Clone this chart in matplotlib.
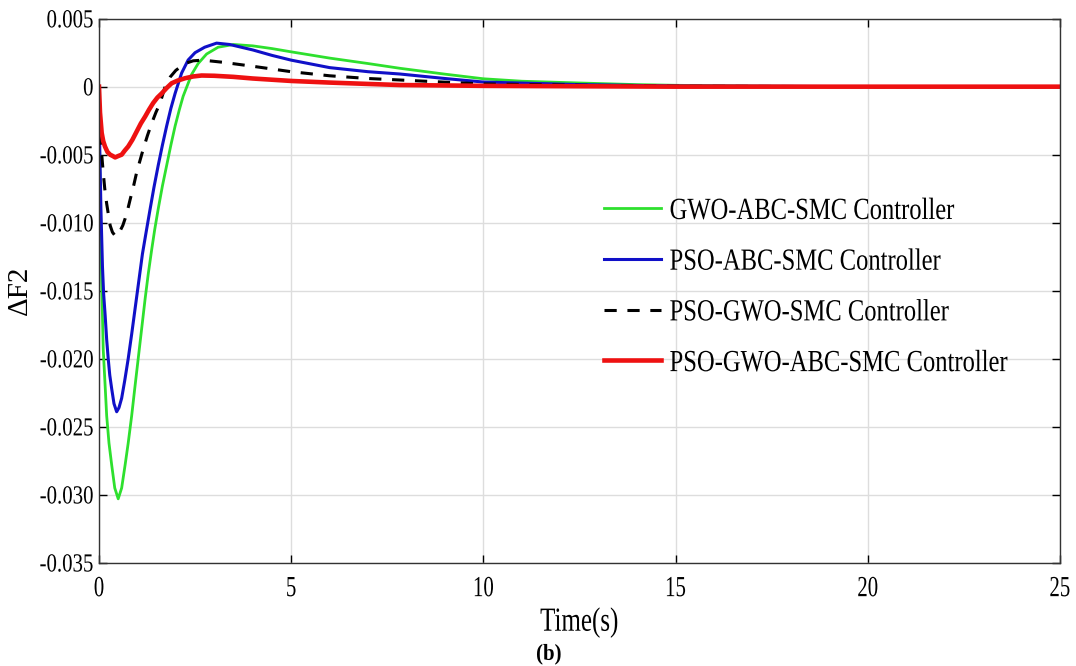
import matplotlib
matplotlib.use("Agg")
import matplotlib.pyplot as plt
from matplotlib.ticker import FixedLocator, FixedFormatter
from matplotlib.patheffects import AbstractPathEffect
from matplotlib.transforms import Affine2D

plt.rcParams['font.family'] = ['Liberation Serif', 'DejaVu Serif']

# ---- data ----
t_green = [0, 0.02, 0.04, 0.07, 0.11, 0.16, 0.2, 0.26, 0.33, 0.41, 0.50, 0.59, 0.68, 0.76, 0.85,
           0.93, 1.02, 1.11, 1.2, 1.28, 1.37, 1.45, 1.54, 1.65, 1.76, 1.87, 1.98, 2.09, 2.19, 2.3,
           2.41, 2.58, 2.8, 3.1, 3.5, 4.0, 4.5, 5, 6, 7, 7.83, 9, 10, 11, 12.5, 14, 15, 17, 20, 25]
y_green = [0, -0.006, -0.010, -0.0144, -0.0193, -0.0220, -0.0242, -0.0262, -0.0278, -0.0295,
           -0.0303, -0.0295, -0.0278, -0.0262, -0.0242, -0.0222, -0.0200, -0.0178, -0.0156,
           -0.0138, -0.0120, -0.0105, -0.0090, -0.0073, -0.0058, -0.0043, -0.0029, -0.0017,
           -0.0007, 0.0001, 0.0009, 0.0017, 0.0024, 0.0029, 0.0031, 0.0030, 0.0028, 0.00256,
           0.0021, 0.0017, 0.00135, 0.00092, 0.00058, 0.0004, 0.00027, 0.00015, 0.0001, 0.00004,
           0.0, 0.0]

t_blue = [0, 0.02, 0.05, 0.09, 0.12, 0.16, 0.2, 0.24, 0.28, 0.33, 0.39, 0.46, 0.52, 0.59, 0.67,
          0.76, 0.85, 0.94, 1.04, 1.13, 1.22, 1.33, 1.43, 1.54, 1.65, 1.76, 1.87, 1.98, 2.07,
          2.15, 2.32, 2.5, 2.75, 3.06, 3.4, 4.0, 4.5, 5, 6, 7, 7.83, 9, 10, 12.5, 15, 20, 25]
y_blue = [0, -0.0045, -0.009, -0.0132, -0.0152, -0.0168, -0.0186, -0.0200, -0.0212, -0.0222,
          -0.0233, -0.0239, -0.0236, -0.0229, -0.0216, -0.0200, -0.0182, -0.0163, -0.0142,
          -0.0123, -0.0108, -0.0090, -0.0074, -0.0058, -0.0043, -0.0029, -0.0016, -0.0005,
          0.0003, 0.0010, 0.00196, 0.0025, 0.0029, 0.0032, 0.0031, 0.0027, 0.0023, 0.00195,
          0.0014, 0.0011, 0.00093, 0.0006, 0.00034, 0.00015, 0.00005, 0.0, 0.0]

t_black = [0, 0.02, 0.05, 0.08, 0.11, 0.15, 0.2, 0.25, 0.29, 0.35, 0.43, 0.49, 0.55, 0.62, 0.68,
           0.75, 0.81, 0.9, 0.98, 1.07, 1.15, 1.26, 1.37, 1.48, 1.59, 1.72, 1.85, 2.0, 2.24, 2.45,
           2.7, 3.2, 4, 5, 6, 7, 7.83, 9, 10, 12.5, 15, 20, 25]
y_black = [0, -0.0018, -0.0041, -0.0053, -0.0063, -0.0075, -0.0086, -0.0095, -0.0102, -0.0107,
           -0.0110, -0.0109, -0.0106, -0.0102, -0.0097, -0.0090, -0.0083, -0.0073, -0.0063,
           -0.0054, -0.0046, -0.0036, -0.0027, -0.0019, -0.0012, 0.0, 0.0007, 0.0012, 0.0017,
           0.0019, 0.00195, 0.0018, 0.0015, 0.0011, 0.0008, 0.0006, 0.00049, 0.00033, 0.0002,
           0.0001, 0.00003, 0.0, 0.0]

t_red = [0, 0.026, 0.07, 0.11, 0.156, 0.22, 0.29, 0.36, 0.42, 0.5, 0.59, 0.67, 0.76, 0.87, 0.98,
         1.09, 1.2, 1.3, 1.41, 1.52, 1.63, 1.76, 1.89, 2.05, 2.24, 2.45, 2.67, 3.0, 3.5, 4, 5, 6,
         7, 7.83, 10, 12.5, 15, 25]
y_red = [0, -0.0019, -0.0034, -0.0040, -0.0044, -0.0048, -0.0050, -0.0051, -0.0052, -0.0051,
         -0.0050, -0.0047, -0.0044, -0.0039, -0.0033, -0.0027, -0.0022, -0.0017, -0.0012,
         -0.0008, -0.0005, -0.0001, 0.00025, 0.00045, 0.00062, 0.00075, 0.00082, 0.0008,
         0.00072, 0.0006, 0.00042, 0.0003, 0.0002, 0.00012, 0.00006, 0.00003, 0.0, 0.0]

labels = ["GWO-ABC-SMC Controller", "PSO-ABC-SMC Controller",
          "PSO-GWO-SMC Controller", "PSO-GWO-ABC-SMC Controller"]
x_ticks = [0, 5, 10, 15, 20, 25]
y_ticks = [0.005, 0, -0.005, -0.010, -0.015, -0.020, -0.025, -0.030, -0.035]
y_tick_labels = ["0.005", "0", "-0.005", "-0.010", "-0.015", "-0.020", "-0.025", "-0.030", "-0.035"]


class Stretch(AbstractPathEffect):
    """Draw text stretched about its own centre (the reference font looks tall and narrow)."""
    def __init__(self, sx=1.0, sy=1.0):
        super().__init__()
        self.sx, self.sy = sx, sy

    def draw_path(self, renderer, gc, tpath, affine, rgbFace=None):
        ext = tpath.get_extents(affine)
        cx, cy = ext.x0 + ext.width / 2, ext.y0 + ext.height / 2
        a = affine + Affine2D().translate(-cx, -cy).scale(self.sx, self.sy).translate(cx, cy)
        renderer.draw_path(gc, tpath, a, rgbFace)


fig = plt.figure(figsize=(10.76, 6.66), dpi=100)
ax = fig.add_axes([0.092, 0.155, 0.893, 0.817])

ax.plot(t_green, y_green, color='#2ee02e', lw=2.0, label=labels[0])
ax.plot(t_blue, y_blue, color='#1010c8', lw=2.2, label=labels[1])
ax.plot(t_black, y_black, color='black', lw=2.2, ls=(0, (4, 3.5)), label=labels[2])
ax.plot(t_red, y_red, color='#ee1111', lw=3.3, label=labels[3])

ax.set_xlim(0, 25)
ax.set_ylim(-0.035, 0.005)
ax.xaxis.set_major_locator(FixedLocator(x_ticks))
ax.yaxis.set_major_locator(FixedLocator(y_ticks))
ax.yaxis.set_major_formatter(FixedFormatter(y_tick_labels))
ax.tick_params(direction='in', length=6, width=1, labelsize=15, top=True, right=True)
ax.tick_params(axis='x', pad=12)
ax.tick_params(axis='y', pad=4)
ax.grid(True, color='#dddddd', lw=1)
for s in ax.spines.values():
    s.set_color('#333333')
    s.set_linewidth(1.0)

for tk in ax.xaxis.get_major_ticks():
    tk.label1.set_path_effects([Stretch(1.0, 1.4)])
for tk in ax.yaxis.get_major_ticks():
    tk.label1.set_path_effects([Stretch(1.0, 1.25)])

ax.set_xlabel("Time(s)", fontsize=18, labelpad=9)
ax.xaxis.label.set_path_effects([Stretch(1.0, 1.35)])
ax.set_ylabel("ΔF2", fontsize=21, labelpad=5)

leg = ax.legend(loc='upper left', bbox_to_anchor=(0.503, 0.708), frameon=False, fontsize=17.7,
                handlelength=2.3, handletextpad=0.35, labelspacing=1.16)
for txt in leg.get_texts():
    txt.set_path_effects([Stretch(1.0, 1.25)])

btxt = fig.text(0.510, 0.010, "(b)", fontsize=15, fontweight='bold', ha='center')
btxt.set_path_effects([Stretch(1.0, 1.1)])

fig.savefig("out.png", dpi=100)
